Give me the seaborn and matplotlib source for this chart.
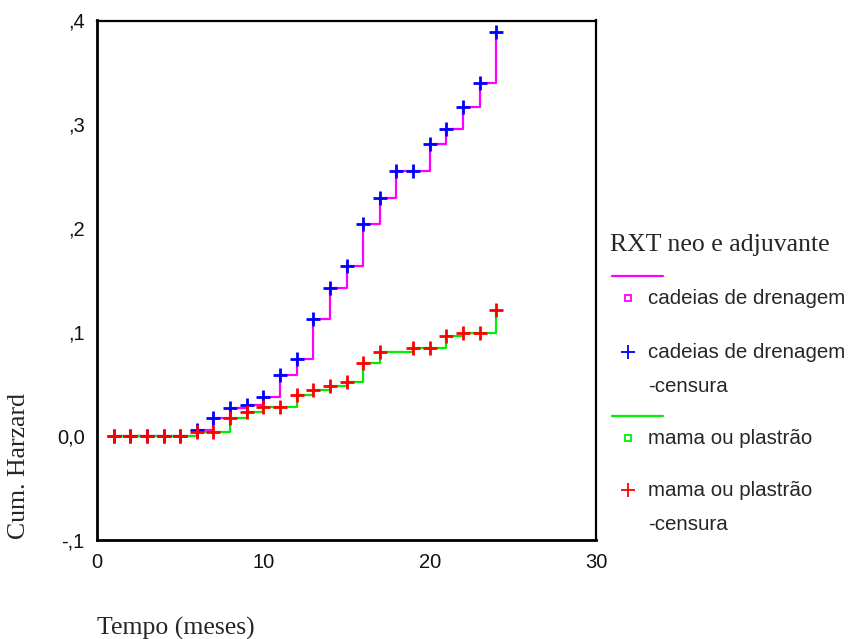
import matplotlib
matplotlib.use("Agg")
import matplotlib.pyplot as plt
from matplotlib.lines import Line2D
import seaborn as sns
import pandas as pd

# Cumulative hazard by month for the two radiotherapy groups
meses_cadeias = list(range(1, 25))
hazard_cadeias = [0.0, 0.0, 0.0, 0.0, 0.0, 0.006, 0.017, 0.027, 0.030, 0.038,
                  0.059, 0.074, 0.113, 0.143, 0.164, 0.204, 0.229, 0.255,
                  0.255, 0.281, 0.296, 0.317, 0.340, 0.389]

meses_mama = list(range(1, 18)) + list(range(19, 25))
hazard_mama = [0.0, 0.0, 0.0, 0.0, 0.0, 0.004, 0.004, 0.017, 0.023, 0.028,
               0.028, 0.040, 0.044, 0.048, 0.052, 0.070, 0.081,
               0.085, 0.085, 0.096, 0.099, 0.099, 0.121]

y_ticks = [-0.1, 0.0, 0.1, 0.2, 0.3, 0.4]
y_tick_labels = ["-,1", "0,0", ",1", ",2", ",3", ",4"]
x_ticks = [0, 10, 20, 30]
x_tick_labels = ["0", "10", "20", "30"]

grupo_titulo = "RXT neo e adjuvante"
grupo_nomes = ["cadeias de drenagem", "mama ou plastrão"]
cor_linha = ["#ff00ff", "#00ee00"]
cor_censura = ["#0000ff", "#ff0000"]

sns.set_theme(style="white")
plt.rcParams["font.family"] = ["Liberation Sans", "DejaVu Sans"]

W, H = 852, 639
fig = plt.figure(figsize=(W / 100, H / 100), dpi=100)
ax = fig.add_axes([97 / W, 1 - 540 / H, (596 - 97) / W, (540 - 20.5) / H])

df_c = pd.DataFrame({"tempo": meses_cadeias, "hazard": hazard_cadeias})
df_m = pd.DataFrame({"tempo": meses_mama, "hazard": hazard_mama})

sns.lineplot(data=df_c, x="tempo", y="hazard", ax=ax, color=cor_linha[0],
             drawstyle="steps-post", linewidth=1.6, estimator=None, zorder=2)
sns.lineplot(data=df_m, x="tempo", y="hazard", ax=ax, color=cor_linha[1],
             drawstyle="steps-post", linewidth=1.6, estimator=None, zorder=2)
sns.scatterplot(data=df_c, x="tempo", y="hazard", ax=ax, marker="+",
                color=cor_censura[0], s=108, linewidth=2.0, zorder=3)
sns.scatterplot(data=df_m, x="tempo", y="hazard", ax=ax, marker="+",
                color=cor_censura[1], s=108, linewidth=2.0, zorder=4)

ax.set_xlim(0, 30)
ax.set_ylim(-0.1, 0.4)
ax.set_xticks(x_ticks)
ax.set_xticklabels(x_tick_labels)
ax.set_yticks(y_ticks)
ax.set_yticklabels(y_tick_labels)
ax.set_xlabel("")
ax.set_ylabel("")
ax.tick_params(axis="both", direction="out", length=6, width=1.3,
               labelsize=14.5, colors="black", pad=3)
ax.tick_params(axis="both", labelcolor="#111111")
for side, sp in ax.spines.items():
    sp.set_color("black")
    sp.set_linewidth(2.0 if side in ("left", "bottom") else 1.6)

serif = ["Liberation Serif", "DejaVu Serif"]
fig.text(19 / W, 1 - 466 / H, "Cum. Harzard", rotation=90, ha="center",
         va="center", fontsize=18.5, family=serif)
fig.text(97 / W, 1 - 628 / H, "Tempo (meses)", ha="left", va="center",
         fontsize=18.5, family=serif)

# Legend drawn in figure coordinates
def fx(px):
    return px / W

def fy(py):
    return 1 - py / H

fig.text(fx(610), fy(245), grupo_titulo, ha="left", va="center",
         fontsize=18.5, family=serif)
leg_rows = [
    (276, 298, 352, 387),
    (416, 438, 490, 524),
]
for i, (y_line, y_sq, y_plus, y_cens) in enumerate(leg_rows):
    fig.add_artist(Line2D([fx(612), fx(663)], [fy(y_line), fy(y_line)],
                          color=cor_linha[i], linewidth=1.6,
                          transform=fig.transFigure))
    fig.add_artist(Line2D([fx(628)], [fy(y_sq)], marker="s", markersize=5,
                          markerfacecolor="none", markeredgecolor=cor_linha[i],
                          markeredgewidth=1.3, linestyle="none",
                          transform=fig.transFigure))
    fig.text(fx(648), fy(y_sq), grupo_nomes[i], ha="left", va="center",
             fontsize=14.8)
    fig.add_artist(Line2D([fx(628)], [fy(y_plus)], marker="+", markersize=10,
                          markeredgecolor=cor_censura[i], markeredgewidth=1.3,
                          linestyle="none", transform=fig.transFigure))
    fig.text(fx(648), fy(y_plus), grupo_nomes[i], ha="left", va="center",
             fontsize=14.8)
    fig.text(fx(648), fy(y_cens), "-censura", ha="left", va="center",
             fontsize=14.8)

fig.savefig("out.png", dpi=100, facecolor="white")
